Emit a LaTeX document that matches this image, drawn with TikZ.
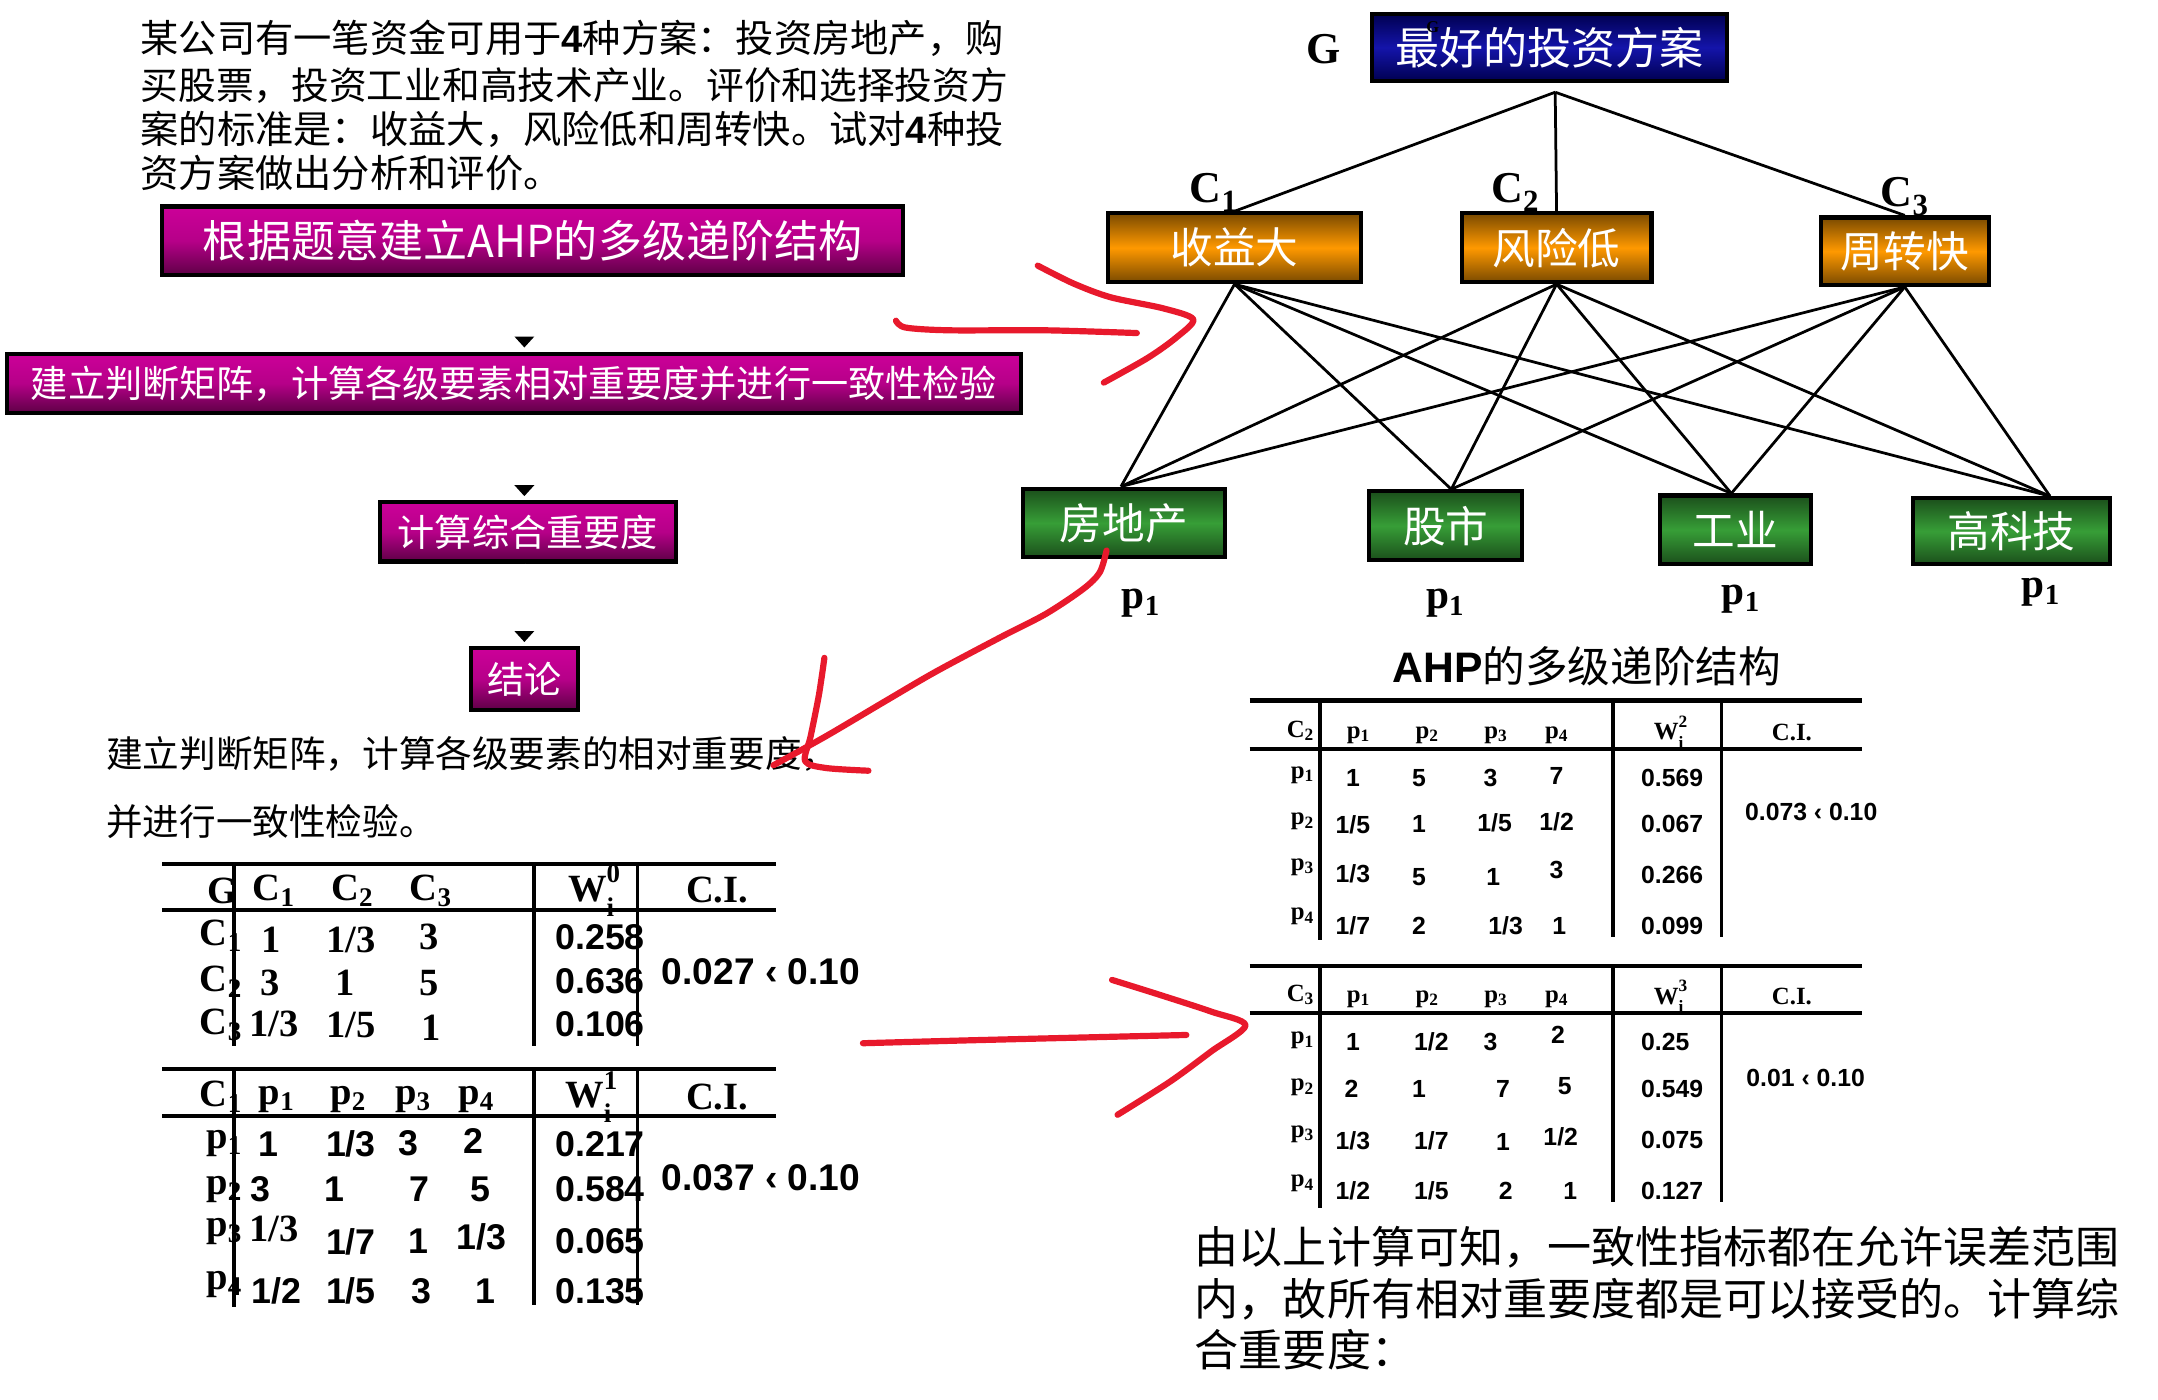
\documentclass[tikz,border=0pt]{standalone}
\usepackage{fontspec}
\setmainfont{Liberation Serif}
\newfontfamily\cjk{Noto Sans CJK SC}
\newfontfamily\arial{Liberation Sans}
\newfontfamily\tnr{Liberation Serif}
\usetikzlibrary{arrows.meta}
\definecolor{pTop}{HTML}{CC0099}
\definecolor{pBot}{HTML}{5E0046}
\definecolor{nvEdge}{HTML}{000050}
\definecolor{nvMid}{HTML}{1414AA}
\definecolor{orEdge}{HTML}{7A4A00}
\definecolor{orMid}{HTML}{FF9900}
\definecolor{grEdge}{HTML}{1B4F1B}
\definecolor{grMid}{HTML}{379E37}
\definecolor{penred}{HTML}{E8192C}
\newcommand\Wi[1]{W\rlap{\raisebox{-0.45ex}{\textsubscript{i}}}\raisebox{0.35ex}{\textsuperscript{#1}}}
\tikzset{
  cj/.style={font=\cjk\fontsize{#1}{#1}\selectfont, inner sep=0pt},
  lab/.style={font=\tnr\bfseries\fontsize{#1}{#1}\selectfont, inner sep=0pt},
  num/.style={font=\arial\bfseries\fontsize{#1}{#1}\selectfont, inner sep=0pt},
  tl/.style={lab=28}, tn/.style={num=26},
  rl/.style={lab=18}, rn/.style={num=18},
  boxbase/.style={draw=black, line width=3pt, text=white, inner sep=0pt, cj=#1},
  pbox/.style={boxbase=27, top color=pTop, bottom color=pBot, middle color=pTop!80!pBot},
  nbox/.style={boxbase=31, top color=nvEdge, bottom color=nvEdge, middle color=nvMid},
  obox/.style={boxbase=31, top color=orEdge, bottom color=orEdge, middle color=orMid},
  gbox/.style={boxbase=31, top color=grEdge, bottom color=grEdge, middle color=grMid},
  wline/.style={white, line width=2pt, shorten >=3pt, -{Triangle[color=black, fill=black, width=14pt, length=8pt]}},
  hline/.style={black, line width=2pt},
  trule/.style={black, line width=3pt},
  vrule/.style={black, line width=2.5pt},
  pen/.style={draw=penred, line width=4.5pt, line cap=round, line join=round},
}
\begin{document}
\begin{tikzpicture}[x=1pt,y=-1pt]
\fill[white] (0,0) rectangle (1568,1017);
\useasboundingbox (0,0) rectangle (1568,1017);

% ---------- top paragraph ----------
\node[cj=27.8, anchor=west] (t1) at (102,28) {某公司有一笔资金可用于{\arial\bfseries 4}种方案：投资房地产，购};
\node[cj=27.4, anchor=west] (t2) at (102,62) {买股票，投资工业和高技术产业。评价和选择投资方};
\node[cj=27.8, anchor=west] (t3) at (102,94) {案的标准是：收益大，风险低和周转快。试对{\arial\bfseries 4}种投};
\node[cj=27.8, anchor=west] (t4) at (102,126) {资方案做出分析和评价。};

% ---------- flow boxes ----------
\node[pbox, cj=32, minimum width=538pt, minimum height=50pt] (b1) at (387,175) {根据题意建立AHP的多级递阶结构};
\node[pbox, minimum width=737pt, minimum height=43pt] (b2) at (373.5,278.5) {建立判断矩阵，计算各级要素相对重要度并进行一致性检验};
\node[pbox, minimum width=215pt, minimum height=43pt] (b3) at (383.5,386.5) {计算综合重要度};
\node[pbox, minimum width=78pt, minimum height=45pt] (b4) at (381,493.5) {结论};
\draw[wline] (b1.south -| b4.center) -- (b2.north -| b4.center);
\draw[wline] (b2.south -| b4.center) -- (b3.north -| b4.center);
\draw[wline] (b3.south -| b4.center) -- (b4.north -| b4.center);

% ---------- hierarchy ----------
\node[nbox, cj=32, minimum width=258pt, minimum height=49pt] (g) at (1126,34.5) {最好的投资方案};
\node[lab=12, text=black] (gsmall) at (1041,20) {G};
\node[lab=32] (glab) at (962,36) {G};
\coordinate (gj) at (1130,67);
\node[obox, minimum width=184pt, minimum height=50pt] (c1) at (897,180) {收益大};
\node[obox, minimum width=138pt, minimum height=50pt] (c2) at (1131,180) {风险低};
\node[obox, minimum width=122pt, minimum height=49pt] (c3) at (1384,182.5) {周转快};
\node[lab=32] (c1lab) at (882,140) {C\textsubscript{1}};
\node[lab=32] (c2lab) at (1101,140) {C\textsubscript{2}};
\node[lab=32] (c3lab) at (1384,143) {C\textsubscript{3}};
\node[gbox, minimum width=147pt, minimum height=50pt] (p1) at (816.5,380) {房地产};
\node[gbox, minimum width=111pt, minimum height=50pt] (p2) at (1050.5,382) {股市};
\node[gbox, minimum width=110pt, minimum height=50pt] (p3) at (1261,385) {工业};
\node[gbox, minimum width=143pt, minimum height=48pt] (p4) at (1461.5,386) {高科技};
\draw[hline] (gj) -- (c1.north);
\draw[hline] (gj) -- (c2.north);
\draw[hline] (gj) -- (c3.north);
\foreach \c in {c1,c2,c3}{
  \draw[hline] (\c.south) -- ([xshift=-2pt]p1.north);
  \draw[hline] (\c.south) -- ([xshift=4pt]p2.north);
  \draw[hline] (\c.south) -- ([xshift=-3pt]p3.north);
  \draw[hline] (\c.south) -- ([xshift=28pt]p4.north);
}
\node[lab=30] (p1lab) at (829,438) {p\textsubscript{1}};
\node[lab=30] (p2lab) at (1050,438) {p\textsubscript{1}};
\node[lab=30] (p3lab) at (1265,435) {p\textsubscript{1}};
\node[lab=30] (p4lab) at (1483,430) {p\textsubscript{1}};
\node[cj=31] (ahp) at (1153,484) {{\arial\bfseries AHP}的多级递阶结构};

% ---------- left texts ----------
\node[cj=26.6, anchor=west] (s1) at (77,548) {建立判断矩阵，计算各级要素的相对重要度，};
\node[cj=26.6, anchor=west] (s2) at (77,597) {并进行一致性检验。};

% ---------- table G ----------
\node[tl, anchor=east] (gG) at (173,647) {G};
\node[tl] (gC1) at (199,647) {C\textsubscript{1}};
\node[tl] (gC2) at (256,647) {C\textsubscript{2}};
\node[tl] (gC3) at (313,647) {C\textsubscript{3}};
\node[tl] (gW) at (432,647) {\Wi{0}};
\node[tl] (gCI) at (521,647) {C.I.};
\node[tl, anchor=east] (gr1) at (176,680) {C\textsubscript{1}};
\node[tl, anchor=east] (gr2) at (176,713) {C\textsubscript{2}};
\node[tl, anchor=east] (gr3) at (176,745) {C\textsubscript{3}};
\node[tl] (g11) at (197,683) {1};
\node[tl] (g12) at (255,683) {1/3};
\node[tl] (g13) at (312,681) {3};
\node[tl] (g21) at (196,714) {3};
\node[tl] (g22) at (251,714) {1};
\node[tl] (g23) at (312,714) {5};
\node[tl] (g31) at (199,744) {1/3};
\node[tl] (g32) at (255,745) {1/5};
\node[tl] (g33) at (313,747) {1};
\node[tn] (gw1) at (436,681) {0.258};
\node[tn] (gw2) at (436,713) {0.636};
\node[tn] (gw3) at (436,744) {0.106};
\node[num=27] (gci) at (553,706) {0.027 ‹ 0.10};
\draw[trule] (118,628) -- (564,628);
\draw[trule] (118,661) -- (564,661);
\draw[vrule] (170,628) -- (170,760);
\draw[vrule] (388,628) -- (388,760);
\draw[vrule] (463,628) -- (463,760);

% ---------- table C1 ----------
\node[tl, anchor=east] (aC) at (176,797) {C\textsubscript{1}};
\node[tl] (ap1) at (201,799) {p\textsubscript{1}};
\node[tl] (ap2) at (253,799) {p\textsubscript{2}};
\node[tl] (ap3) at (300,799) {p\textsubscript{3}};
\node[tl] (ap4) at (346,799) {p\textsubscript{4}};
\node[tl] (aW) at (430,797) {\Wi{1}};
\node[tl] (aCI) at (521,797) {C.I.};
\node[tl, anchor=east] (ar1) at (176,831) {p\textsubscript{1}};
\node[tl, anchor=east] (ar2) at (176,864) {p\textsubscript{2}};
\node[tl, anchor=east] (ar3) at (176,895) {p\textsubscript{3}};
\node[tl, anchor=east] (ar4) at (176,933) {p\textsubscript{4}};
\node[tn] (a11) at (195,831) {1};
\node[tn] (a12) at (255,831) {1/3};
\node[tn] (a13) at (297,831) {3};
\node[tn] (a14) at (344,829) {2};
\node[tn] (a21) at (189,864) {3};
\node[tn] (a22) at (243,864) {1};
\node[tn] (a23) at (305,864) {7};
\node[tn] (a24) at (349,864) {5};
\node[tl] (a31) at (199,893) {1/3};
\node[tn] (a32) at (255,902) {1/7};
\node[tn] (a33) at (304,902) {1};
\node[tn] (a34) at (350,899) {1/3};
\node[tn] (a41) at (201,938) {1/2};
\node[tn] (a42) at (255,938) {1/5};
\node[tn] (a43) at (306,938) {3};
\node[tn] (a44) at (353,938) {1};
\node[tn] (aw1) at (436,831) {0.217};
\node[tn] (aw2) at (436,864) {0.584};
\node[tn] (aw3) at (436,902) {0.065};
\node[tn] (aw4) at (436,938) {0.135};
\node[num=27] (aci) at (553,856) {0.037 ‹ 0.10};
\draw[trule] (118,777) -- (564,777);
\draw[trule] (118,811) -- (564,811);
\draw[vrule] (170,777) -- (170,950);
\draw[vrule] (388,777) -- (388,948);
\draw[vrule] (463,777) -- (463,948);

% ---------- table C2 ----------
\node[rl, anchor=east] (bC) at (955,531) {C\textsubscript{2}};
\node[rl] (bp1) at (987,534) {p\textsubscript{1}};
\node[rl] (bp2) at (1037,534) {p\textsubscript{2}};
\node[rl] (bp3) at (1087,534) {p\textsubscript{3}};
\node[rl] (bp4) at (1131,534) {p\textsubscript{4}};
\node[rl] (bW) at (1214,532) {\Wi{2}};
\node[rl] (bCI) at (1302,532) {C.I.};
\node[rl, anchor=east] (br1) at (955,563) {p\textsubscript{1}};
\node[rl, anchor=east] (br2) at (955,597) {p\textsubscript{2}};
\node[rl, anchor=east] (br3) at (955,630) {p\textsubscript{3}};
\node[rl, anchor=east] (br4) at (955,666) {p\textsubscript{4}};
\node[rn] (b11) at (983,565) {1};
\node[rn] (b12) at (1031,565) {5};
\node[rn] (b13) at (1083,565) {3};
\node[rn] (b14) at (1131,564) {7};
\node[rn] (b21) at (983,599) {1/5};
\node[rn] (b22) at (1031,599) {1};
\node[rn] (b23) at (1086,598) {1/5};
\node[rn] (b24) at (1131,597) {1/2};
\node[rn] (b31) at (983,635) {1/3};
\node[rn] (b32) at (1031,637) {5};
\node[rn] (b33) at (1085,637) {1};
\node[rn] (b34) at (1131,632) {3};
\node[rn] (b41) at (983,673) {1/7};
\node[rn] (b42) at (1031,673) {2};
\node[rn] (b43) at (1094,673) {1/3};
\node[rn] (b44) at (1133,673) {1};
\node[rn] (bw1) at (1215,565) {0.569};
\node[rn] (bw2) at (1215,599) {0.067};
\node[rn] (bw3) at (1215,636) {0.266};
\node[rn] (bw4) at (1215,673) {0.099};
\node[rn] (bci) at (1316,590) {0.073 ‹ 0.10};
\draw[trule] (908,509) -- (1353,509);
\draw[trule] (908,544) -- (1353,544);
\draw[vrule] (959,509) -- (959,683);
\draw[vrule] (1172,509) -- (1172,681);
\draw[vrule] (1251,509) -- (1251,681);

% ---------- table C3 ----------
\node[rl, anchor=east] (cC) at (955,723) {C\textsubscript{3}};
\node[rl] (cp1) at (987,726) {p\textsubscript{1}};
\node[rl] (cp2) at (1037,726) {p\textsubscript{2}};
\node[rl] (cp3) at (1087,726) {p\textsubscript{3}};
\node[rl] (cp4) at (1131,726) {p\textsubscript{4}};
\node[rl] (cW) at (1214,724) {\Wi{3}};
\node[rl] (cCI) at (1302,724) {C.I.};
\node[rl, anchor=east] (cr1) at (955,756) {p\textsubscript{1}};
\node[rl, anchor=east] (cr2) at (955,790) {p\textsubscript{2}};
\node[rl, anchor=east] (cr3) at (955,824) {p\textsubscript{3}};
\node[rl, anchor=east] (cr4) at (955,860) {p\textsubscript{4}};
\node[rn] (c11) at (983,757) {1};
\node[rn] (c12) at (1040,757) {1/2};
\node[rn] (c13) at (1083,757) {3};
\node[rn] (c14) at (1132,752) {2};
\node[rn] (c21) at (982,791) {2};
\node[rn] (c22) at (1031,791) {1};
\node[rn] (c23) at (1092,791) {7};
\node[rn] (c24) at (1137,789) {5};
\node[rn] (c31) at (983,829) {1/3};
\node[rn] (c32) at (1040,829) {1/7};
\node[rn] (c33) at (1092,830) {1};
\node[rn] (c34) at (1134,826) {1/2};
\node[rn] (c41) at (983,865) {1/2};
\node[rn] (c42) at (1040,865) {1/5};
\node[rn] (c43) at (1094,865) {2};
\node[rn] (c44) at (1141,865) {1};
\node[rn] (cw1) at (1210,757) {0.25};
\node[rn] (cw2) at (1215,791) {0.549};
\node[rn] (cw3) at (1215,828) {0.075};
\node[rn] (cw4) at (1215,865) {0.127};
\node[rn] (cci) at (1312,783) {0.01 ‹ 0.10};
\draw[trule] (908,702) -- (1353,702);
\draw[trule] (908,736) -- (1353,736);
\draw[vrule] (959,702) -- (959,878);
\draw[vrule] (1172,702) -- (1172,873);
\draw[vrule] (1251,702) -- (1251,873);

% ---------- bottom right text ----------
\node[cj=32, anchor=west] (r1) at (868,906) {由以上计算可知，一致性指标都在允许误差范围};
\node[cj=32, anchor=west] (r2) at (868,944) {内，故所有相对重要度都是可以接受的。计算综};
\node[cj=32, anchor=west] (r3) at (868,981) {合重要度：};

% ---------- red hand-drawn marks ----------
\draw[pen] plot[smooth] coordinates {(651,233) (658,238) (690,240) (760,240) (826,242)};
\draw[pen] plot[smooth] coordinates {(754,193) (780,206) (807,216) (845,224) (867,232) (855,245) (834,260) (802,278)};
\draw[pen] plot[smooth] coordinates {(804,400) (799,416) (787,428) (760,446) (727,463) (680,488) (644,509) (600,535) (562,556)};
\draw[pen] plot[smooth] coordinates {(599,478) (595,505) (589,535) (585,553) (600,558) (631,560)};
\draw[pen] plot[smooth] coordinates {(627,758) (700,756) (780,754) (862,752)};
\draw[pen] plot[smooth] coordinates {(808,712) (840,722) (880,735) (905,745) (880,764) (850,786) (812,810)};
\end{tikzpicture}
\end{document}
